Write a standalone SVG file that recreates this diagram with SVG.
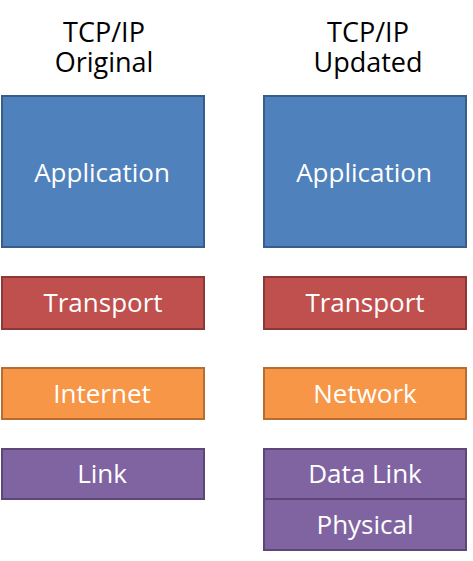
<svg xmlns="http://www.w3.org/2000/svg" width="473" height="561" viewBox="0 0 473 561">
<style>
text{font-family:"Open Sans","Noto Sans","Liberation Sans",sans-serif;font-size:26px;text-anchor:middle}
.t{fill:#000;font-size:27px}
.l{fill:#fff}
.app{fill:#4F81BD;stroke:#385D8A;stroke-width:2}
.tr{fill:#C0504D;stroke:#8C3836;stroke-width:2}
.nw{fill:#F79646;stroke:#B66D31;stroke-width:2}
.lk{fill:#8064A2;stroke:#5C4776;stroke-width:2}
</style>
<rect width="473" height="561" fill="#fff"/>
<g id="title-original"><text class="t" x="104" y="42"><tspan x="104">TCP/IP</tspan><tspan x="104" dy="30">Original</tspan></text></g>
<g id="title-updated"><text class="t" x="368" y="42"><tspan x="368">TCP/IP</tspan><tspan x="368" dy="30">Updated</tspan></text></g>
<g id="orig-application"><rect class="app" x="2" y="96" width="202" height="151"/><text class="l" x="102" y="182">Application</text></g>
<g id="orig-transport"><rect class="tr" x="2" y="277" width="202" height="52"/><text class="l" x="103" y="312">Transport</text></g>
<g id="orig-internet"><rect class="nw" x="2" y="368" width="202" height="51"/><text class="l" x="102" y="403">Internet</text></g>
<g id="orig-link"><rect class="lk" x="2" y="449" width="202" height="50"/><text class="l" x="102" y="483">Link</text></g>
<g id="upd-application"><rect class="app" x="264" y="96" width="202" height="151"/><text class="l" x="364" y="182">Application</text></g>
<g id="upd-transport"><rect class="tr" x="264" y="277" width="202" height="52"/><text class="l" x="365" y="312">Transport</text></g>
<g id="upd-network"><rect class="nw" x="264" y="368" width="202" height="51"/><text class="l" x="365" y="403">Network</text></g>
<g id="upd-datalink"><rect class="lk" x="264" y="449" width="202" height="50"/><text class="l" x="365" y="483">Data Link</text></g>
<g id="upd-physical"><rect class="lk" x="264" y="499" width="202" height="51"/><text class="l" x="365" y="534">Physical</text></g>
<g id="connectors"></g>
</svg>
